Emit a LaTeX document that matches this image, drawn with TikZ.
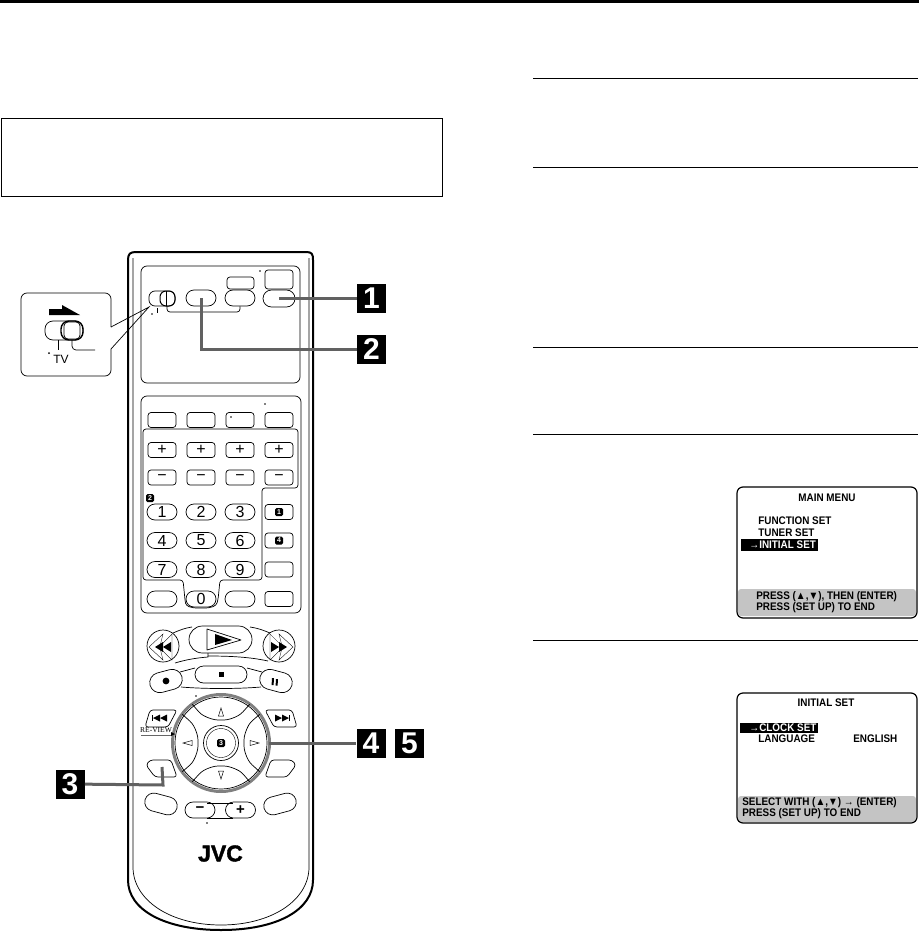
\documentclass[tikz,border=0pt]{standalone}
\usepackage{fontspec}
\setmainfont{Liberation Sans}
\newfontfamily\serifsmall{Liberation Serif}
\newfontfamily\logofont[BoldFeatures={FakeBold=1.6}]{Liberation Sans}
\newfontfamily\menufont[FakeStretch=0.9]{Liberation Sans}
\usetikzlibrary{shapes.misc}
\usetikzlibrary{arrows}
\tikzset{
  pill/.style={draw,rounded rectangle,minimum width=30pt,minimum height=16pt,inner sep=0pt,font=\fontsize{16}{16}\selectfont},
  keybox/.style={draw,rectangle,rounded corners=3pt,minimum width=28pt,minimum height=15pt,inner sep=0pt,font=\fontsize{16}{16}\selectfont},
  tagbox/.style={fill=black,text=white,minimum size=29pt,inner sep=0pt,font=\bfseries\fontsize{30}{30}\selectfont},
  minitag/.style={fill=black,text=white,rounded corners=1.5pt,minimum size=8pt,inner sep=0pt,font=\bfseries\fontsize{7}{7}\selectfont},
  leader/.style={draw=black!62,line width=3pt},
  rule/.style={line width=0.8pt},
  menutext/.style={anchor=west,inner sep=0pt,font=\menufont\bfseries\fontsize{11}{11}\selectfont},
  screen/.style={line width=1.2pt,rounded corners=6pt},
}
\begin{document}
\begin{tikzpicture}[x=1pt,y=-1pt,line width=0.7pt]
\useasboundingbox (0,0) rectangle (919,933);
% page rules
\fill (0,0) rectangle (919,3.4);
\draw[rule] (1,118) rectangle (442,196);
\draw[rule] (533,78) -- (918,78);
\draw[rule] (533,167) -- (918,167);
\draw[rule] (533,347) -- (918,347);
\draw[rule] (533,434) -- (918,434);
\draw[rule] (533,640) -- (918,640);
% remote body
\draw[line width=2pt] (128,880) -- (128,260) .. controls (128,254) and (130,252) .. (136,252) -- (306,252) .. controls (312,252) and (313,254) .. (313,260) -- (313,880) .. controls (313,910) and (277,930) .. (221,930) .. controls (165,930) and (128,910) .. (128,880) -- cycle;
\draw (133,258) -- (133,867) .. controls (133,900) and (170,925) .. (221,925) .. controls (272,925) and (309,900) .. (309,867) -- (309,258);
% top panel
\draw[rounded corners=6pt] (141,266) rectangle (300,383);
\draw[rounded corners=3pt] (265,270) rectangle (293,289);
\draw[rounded corners=3pt] (227,277) rectangle (254,289);
\node[pill,minimum width=32pt,minimum height=17pt] (power) at (279,298.5) {};
\node[pill] (tvkey) at (240,298) {};
\node[pill] (dvdkey) at (201,298) {};
\fill (260,271) circle (0.9);
\draw[rounded corners=6pt] (149,291) rectangle (175,306);
\draw[rounded corners=6pt,line width=1pt] (160,291) rectangle (175,306);
\draw (166,291) -- (166,306);
\draw[rounded corners=3pt] (167,306) -- (167,312) -- (240,312) -- (tvkey.south);
\fill (152,314) circle (0.9);
\draw (157,308) -- (157,313);
% callout
\draw[rounded corners=6pt] (111,327) -- (111,293) -- (21,293) -- (21,376) -- (111,376) -- (111,349);
\coordinate (switchtip) at (149,307);
\draw (111,327) -- (switchtip) -- (111,349);
\fill (49,309) -- (62,309) -- (62,305) -- (80,315) -- (49,315) -- cycle;
\draw[rounded corners=8pt] (45,321) rectangle (83,340);
\draw[rounded corners=8pt,line width=1.4pt] (61,321) rectangle (83,340);
\draw[rounded corners=4pt] (64,322) rectangle (80,339);
\draw (58,340) -- (58,350);
\draw[rounded corners=4pt] (72,340) -- (72,350) -- (95,350);
\fill (49,353) circle (1);
\node[inner sep=0pt,font=\fontsize{12}{12}\selectfont] (tvlabel) at (61,359) {TV};
% second panel
\draw[rounded corners=6pt] (141,396) rectangle (301,613);
\node[keybox] (keya) at (162,420) {};
\node[keybox] (keyb) at (201,420) {};
\node[keybox] (keyc) at (240,420) {};
\node[keybox] (keyd) at (279,420) {};
\fill (231,417) circle (0.9);
\fill (265,404) circle (0.9);
\draw[rounded corners=3pt] (143,429) -- (298,429) -- (298,488) -- (262,488) -- (262,580) -- (220,580) -- (218,600) .. controls (216,606) and (212,608) .. (201,608) .. controls (190,608) and (186,606) .. (185,600) -- (183,580) -- (143,580) -- cycle;
\node[keybox] (plusa) at (162,450) {+};
\node[keybox] (plusb) at (201,450) {+};
\node[keybox] (plusc) at (240,450) {+};
\node[keybox] (plusd) at (279,450) {+};
\node[keybox] (minusa) at (162,477.5) {−};
\node[keybox] (minusb) at (201,477.5) {−};
\node[keybox] (minusc) at (240,477.5) {−};
\node[keybox] (minusd) at (279,477.5) {−};
\node[pill] (numa) at (162,512) {1};
\node[pill] (numb) at (201,512) {2};
\node[pill] (numc) at (240,512) {3};
\node[pill] (numd) at (162,540.5) {4};
\node[pill] (nume) at (201,540.5) {5};
\node[pill] (numf) at (240,540.5) {6};
\node[pill] (numg) at (162,569.5) {7};
\node[pill] (numh) at (201,569.5) {8};
\node[pill] (numi) at (240,569.5) {9};
\node[pill] (cancel) at (162,599) {};
\node[pill] (numz) at (201,599) {0};
\node[pill] (clear) at (240,599) {};
\node[keybox] (keye) at (279,512) {};
\node[keybox] (keyf) at (279,540.5) {};
\node[keybox] (keyg) at (279,569.5) {};
\node[keybox] (keyh) at (279,599) {};
\node[minitag] (minione) at (279,512) {1};
\node[minitag] (minifour) at (279,540.5) {4};
\node[minitag] (minitwo) at (150,498) {2};
% transport keys
\node[draw,circle,minimum size=32pt,inner sep=0pt] (rew) at (163,646) {};
\node[draw,circle,minimum size=32pt,inner sep=0pt] (ffw) at (279,646) {};
\node[pill,minimum width=63pt,minimum height=27pt] (play) at (220.5,639.5) {};
\draw[line join=round] (207,629) -- (241,640) -- (207,650) -- cycle;
\fill (215,634) -- (232,640) -- (215,645) -- cycle;
\draw[line width=0.35pt] (149,647) -- (163,634) -- (160,646) -- (172,634) -- (172,660) -- (160,648) -- (163,660) -- cycle;
\fill (155,647) -- (163,642) -- (163,652) -- cycle;
\fill (163,647) -- (171,642) -- (171,652) -- cycle;
\draw[line width=0.35pt] (293,647) -- (279,634) -- (282,646) -- (270,634) -- (270,660) -- (282,648) -- (279,660) -- cycle;
\fill (287,647) -- (279,642) -- (279,652) -- cycle;
\fill (279,647) -- (271,642) -- (271,652) -- cycle;
\draw (173,633) .. controls (180,630) and (185,628) .. (192,627);
\draw (250,627) .. controls (257,628) and (263,630) .. (270,633);
\draw (175,663) .. controls (185,660) and (195,658) .. (208,657) -- (208,653);
\draw (208,656) .. controls (230,656) and (250,657) .. (268,661);
\node[pill,minimum width=33pt,minimum height=20pt,rotate=15] (record) at (166,681) {};
\node[pill,minimum width=52pt,minimum height=17pt] (stop) at (221,674.5) {};
\node[pill,minimum width=33pt,minimum height=20pt,rotate=-15] (pause) at (276,681) {};
\fill (166,681) circle (3.4);
\fill (218.5,672) rectangle (223.5,677);
\fill (272,678) -- (274,678) -- (273.6,685) -- (271.6,685) -- cycle;
\fill (276,679) -- (278,679) -- (277.6,685.5) -- (275.6,685.5) -- cycle;
\draw (180,672) -- (195,668);
\draw (247,668) -- (262,672);
\draw (181,687) .. controls (205,689) and (237,689) .. (261,687);
% ring and pads
\coordinate (ringc) at (221,743);
\draw (ringc) circle (46);
\draw[draw=black!50,line width=3pt] (ringc) circle (48.5);
\draw[rounded corners=3pt] (192.3,704.3) -- (200.7,714) .. controls (208,718) and (214,720) .. (221,720) .. controls (228,720) and (234,718) .. (241,714) -- (249.7,704.3);
\draw[rounded corners=3pt,rotate around={90:(ringc)}] (192.3,704.3) -- (200.7,714) .. controls (208,718) and (214,720) .. (221,720) .. controls (228,720) and (234,718) .. (241,714) -- (249.7,704.3);
\draw[rounded corners=3pt,rotate around={180:(ringc)}] (192.3,704.3) -- (200.7,714) .. controls (208,718) and (214,720) .. (221,720) .. controls (228,720) and (234,718) .. (241,714) -- (249.7,704.3);
\draw[rounded corners=3pt,rotate around={270:(ringc)}] (192.3,704.3) -- (200.7,714) .. controls (208,718) and (214,720) .. (221,720) .. controls (228,720) and (234,718) .. (241,714) -- (249.7,704.3);
\draw[line width=0.5pt] (221,708) -- (218.5,716) -- (223.5,716) -- cycle;
\draw[line width=0.5pt] (221,779) -- (218.5,771) -- (223.5,771) -- cycle;
\draw[line width=0.5pt] (183,743) -- (192,740.5) -- (192,745.5) -- cycle;
\draw[line width=0.5pt] (259,743) -- (250,740.5) -- (250,745.5) -- cycle;
\draw (ringc) circle (17.5);
\draw[line width=0.4pt] (ringc) circle (14.5);
\node[minitag] (minithree) at (ringc) {3};
\fill (196,696) circle (0.8);
% skip keys
\draw[rounded corners=3pt] (150,710) -- (177,710) -- (168,727) -- (145,727) -- cycle;
\draw[rounded corners=3pt] (265,710) -- (292,710) -- (297,727) -- (274,727) -- cycle;
\fill (152,715) rectangle (153,721);
\fill (153,718) -- (160,714.5) -- (160,721.5) -- cycle;
\fill (160,718) -- (167,714.5) -- (167,721.5) -- cycle;
\fill (290,715) rectangle (289,721);
\fill (289,718) -- (282,714.5) -- (282,721.5) -- cycle;
\fill (282,718) -- (275,714.5) -- (275,721.5) -- cycle;
\node[inner sep=0pt,font=\serifsmall\fontsize{7.5}{7.5}\selectfont] (review) at (156,730.5) {RE-VIEW};
\draw[draw=black!60] (141,735) -- (172,735);
\fill (171,732) -- (175,734) -- (171,736) -- cycle;
% lower keys
\draw[rounded corners=3pt] (150,760) -- (171,760) -- (177,777) -- (155,777) -- (146,765) -- cycle;
\draw[rounded corners=3pt] (271,760) -- (292,760) -- (296,765) -- (287,777) -- (265,777) -- cycle;
\node[pill,minimum width=33pt,minimum height=18pt,rotate=-15] (leftkey) at (161,804) {};
\node[pill,minimum width=33pt,minimum height=18pt,rotate=15] (rightkey) at (280,804) {};
\node[pill,font=\bfseries\fontsize{15}{15}\selectfont] (volminus) at (200,810) {−};
\node[pill,font=\bfseries\fontsize{15}{15}\selectfont] (volplus) at (240.5,810) {+};
\draw (207,803) -- (233,803);
\draw (207,818) -- (233,818);
\fill (207,823) circle (0.8);
\node[inner sep=0pt,font=\logofont\bfseries\fontsize{23}{23}\selectfont] (logo) at (220.5,853.5) {JVC};
% step tags
\node[tagbox] (tagone) at (371.5,298.5) {1};
\node[tagbox] (tagtwo) at (371.5,349.5) {2};
\node[tagbox] (tagthree) at (70,784) {3};
\node[tagbox] (tagfour) at (371,743) {4};
\node[tagbox] (tagfive) at (409.5,743) {5};
\coordinate (startthree) at (162,767);
\coordinate (startfour) at (269,743);
\draw[leader] (power.center) -- (tagone);
\draw[leader] (dvdkey.center) |- (tagtwo);
\draw[leader] (startthree) -- (163,785) -- (tagthree);
\draw[leader] (startfour) -- (tagfour);
% menu screens
\fill[black!23,rounded corners=3pt] (738,589) rectangle (916,616);
\draw[screen] (737,487) rectangle (917,618);
\node[menutext,anchor=center] (maintitle) at (827,498) {MAIN MENU};
\node[menutext] (funcset) at (758,521) {FUNCTION SET};
\node[menutext] (tunerset) at (758,533) {TUNER SET};
\fill (741,539) rectangle (818,551);
\node[menutext,text=white] (initset) at (749,545) {→INITIAL SET};
\node[menutext] (pressa) at (756,597) {PRESS (▲,▼), THEN (ENTER)};
\node[menutext] (pressb) at (756,608) {PRESS (SET UP) TO END};
\fill[black!23,rounded corners=3pt] (738,796) rectangle (916,822);
\draw[screen] (737,693) rectangle (917,823);
\node[menutext,anchor=center] (inittitle) at (826,703) {INITIAL SET};
\fill (740,723) rectangle (818,733);
\node[menutext,text=white] (clockset) at (749,728) {→CLOCK SET};
\node[menutext] (language) at (758,739) {LANGUAGE};
\node[menutext] (english) at (853,739) {ENGLISH};
\node[menutext] (selectw) at (742,803) {SELECT WITH (▲,▼) → (ENTER)};
\node[menutext] (pressc) at (742,814) {PRESS (SET UP) TO END};
\end{tikzpicture}
\end{document}
